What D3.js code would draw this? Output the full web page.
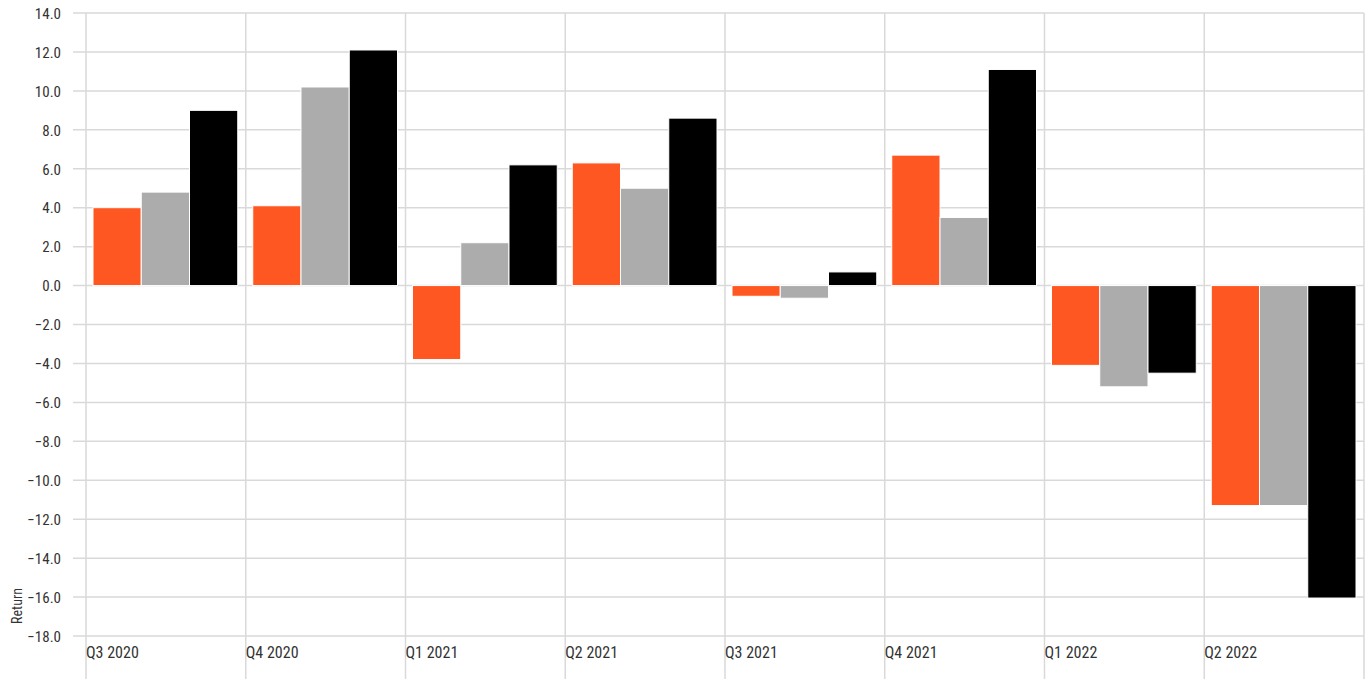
<!DOCTYPE html>
<html><head><meta charset="utf-8">
<script src="https://cdn.jsdelivr.net/npm/d3@7/dist/d3.min.js"></script>
<style>body{margin:0;background:#fff}svg{display:block}text{font-family:"Liberation Sans Narrow","Roboto Condensed","DejaVu Sans Condensed",sans-serif;fill:#333}</style>
</head><body>
<svg id="c" width="1372" height="679"></svg>
<script>
const categories = ["Q3 2020","Q4 2020","Q1 2021","Q2 2021","Q3 2021","Q4 2021","Q1 2022","Q2 2022"];
const seriesNames = ["Series A","Series B","Series C"];
const seriesA = [4.0, 4.1, -3.8, 6.3, -0.55, 6.7, -4.1, -11.3];
const seriesB = [4.8, 10.2, 2.2, 5.0, -0.65, 3.5, -5.2, -11.3];
const seriesC = [9.0, 12.1, 6.2, 8.6, 0.7, 11.1, -4.5, -16.05];
const yTicks = [14,12,10,8,6,4,2,0,-2,-4,-6,-8,-10,-12,-14,-16,-18];
const colors = ["#ff5722","#acacac","#000000"];

(function(){
const svg = d3.select("#c");
const pl = 86, pr = 1364, pt = 13, pb = 636;
const x = d3.scaleBand().domain(categories).range([pl, pr]).paddingInner(0).paddingOuter(0);
const y = d3.scaleLinear().domain([-18, 14]).range([pb, pt]);
const inner = d3.scaleBand().domain([0,1,2]).range([7, x.bandwidth()-8]).padding(0);

svg.append("g").selectAll("line").data(yTicks).join("line")
  .attr("x1", 73).attr("x2", pr).attr("y1", d=>y(d)).attr("y2", d=>y(d))
  .attr("stroke", "#d9d9d9").attr("stroke-width", 1.5);
const vx = categories.map(c=>x(c)).concat([pr]);
svg.append("g").selectAll("line").data(vx).join("line")
  .attr("x1", d=>d).attr("x2", d=>d).attr("y1", pt).attr("y2", 679)
  .attr("stroke", "#d9d9d9").attr("stroke-width", 1.5);

const yAxis = d3.axisLeft(y).tickValues(yTicks).tickFormat(d3.format(".1f")).tickSize(0).tickPadding(0);
const ya = svg.append("g").attr("transform", "translate(61,0)").call(yAxis);
ya.select(".domain").remove();
ya.selectAll("text").attr("font-size", 15).style("fill", "#333").attr("dy", "0.35em");

const xAxis = d3.axisBottom(x).tickSize(0).tickPadding(0);
const xa = svg.append("g").attr("transform", "translate(0,647)").call(xAxis);
xa.select(".domain").remove();
xa.selectAll(".tick").attr("transform", d=>`translate(${x(d)},0)`);
xa.selectAll("text").attr("text-anchor", "start").attr("font-size", 16).style("fill", "#333").attr("dy", "0.71em");

const series = [seriesA, seriesB, seriesC];
series.forEach((vals, si) => {
  svg.append("g").selectAll("rect").data(vals).join("rect")
    .attr("x", (d,i)=>x(categories[i]) + inner(si))
    .attr("width", inner.bandwidth())
    .attr("y", d=>y(Math.max(0,d)))
    .attr("height", d=>Math.abs(y(d)-y(0)))
    .attr("fill", colors[si])
    .attr("stroke", "#fff").attr("stroke-width", 1);
});

svg.append("text").attr("transform", "translate(22,606) rotate(-90)")
  .attr("text-anchor", "middle").attr("font-size", 14).text("Return");
})();
</script>
</body></html>
